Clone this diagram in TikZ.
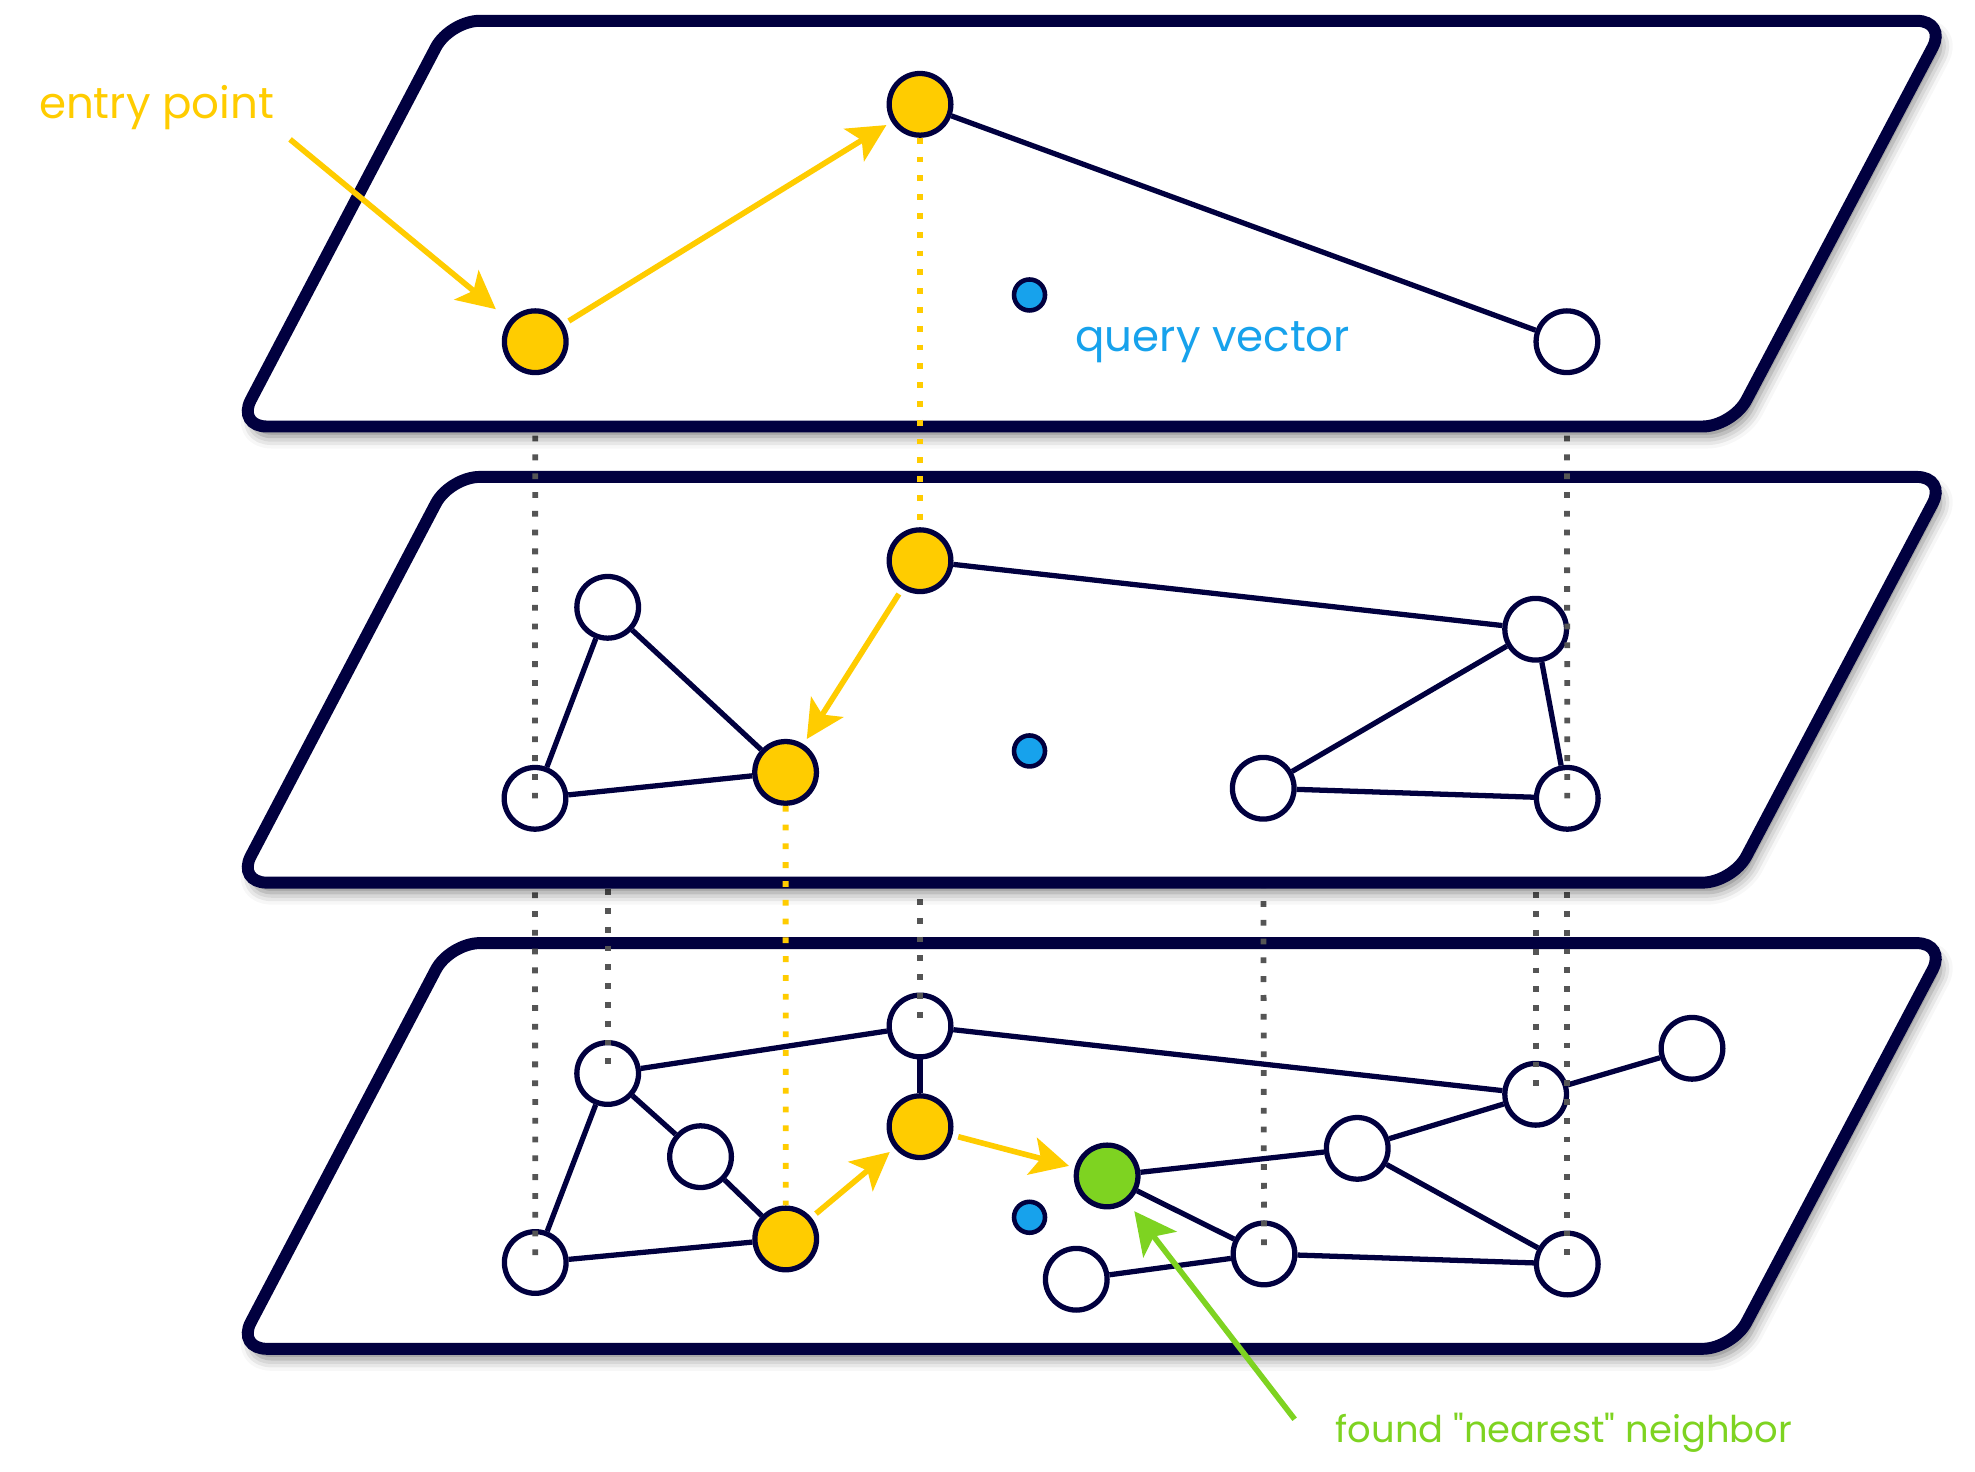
\documentclass[tikz,border=0pt]{standalone}
\usepackage{fontspec}
\setmainfont{Poppins}[Ligatures=TeXOff]
\usetikzlibrary{arrows.meta,shadows.blur}
\definecolor{navy}{HTML}{01003F}
\definecolor{yel}{HTML}{FFCC00}
\definecolor{grn}{HTML}{7ED321}
\definecolor{qblue}{HTML}{17A2EC}
\definecolor{dgray}{HTML}{555555}
\begin{document}
\begin{tikzpicture}[x=0.0126cm,y=-0.0126cm,
  plane/.style={draw=navy,line width=3.4pt,fill=white,rounded corners=0.3cm,
    blur shadow={shadow xshift=0.05cm,shadow yshift=-0.1cm,shadow blur radius=0.12cm,shadow opacity=50}},
  vtx/.style={circle,draw=navy,line width=1.5pt,fill=white,minimum size=0.617cm,inner sep=0pt},
  yv/.style={vtx,fill=yel},
  gv/.style={vtx,fill=grn},
  qv/.style={circle,draw=navy,line width=1.3pt,fill=qblue,minimum size=0.31cm,inner sep=0pt},
  edge/.style={draw=navy,line width=1.5pt},
  dots/.style={draw=dgray,line width=1.65pt,dash pattern=on 0.058cm off 0.13cm},
  ydots/.style={draw=yel,line width=1.65pt,dash pattern=on 0.058cm off 0.13cm},
  yarrow/.style={draw=yel,line width=1.6pt,-{Stealth[length=0.38cm,width=0.38cm,inset=0.09cm]},
    shorten <=0.06cm,shorten >=0.06cm},
  garrow/.style={draw=grn,line width=1.6pt,-{Stealth[length=0.42cm,width=0.42cm,inset=0.1cm]}},
  lbl/.style={anchor=base west,inner sep=0pt,font=\fontsize{12.4pt}{15pt}\selectfont},
  lbls/.style={anchor=base west,inner sep=0pt,font=\fontsize{10.5pt}{13pt}\selectfont}
]
\useasboundingbox (0,0) rectangle (1567.5,1167.5);

% node centres
\coordinate (b1) at (730.2,814.3);
\coordinate (b2) at (482.3,852);
\coordinate (b3) at (556,918);
\coordinate (b4) at (730.2,894.2);
\coordinate (b5) at (623.6,983.3);
\coordinate (b6) at (424.8,1002);
\coordinate (g)  at (878.7,933.3);
\coordinate (b7) at (1077.2,911.4);
\coordinate (b8) at (1218.8,868.5);
\coordinate (b9) at (1342.9,832);
\coordinate (b10) at (1003.2,995.2);
\coordinate (b11) at (854.2,1015.3);
\coordinate (b12) at (1243.9,1003.2);
\coordinate (q3) at (817.1,966.1);
\coordinate (m1) at (730.2,445);
\coordinate (m2) at (482.3,482);
\coordinate (m3) at (424.6,633.6);
\coordinate (m4) at (623.5,613);
\coordinate (m5) at (1218.8,499.4);
\coordinate (m6) at (1002.6,625.6);
\coordinate (m7) at (1243.9,633.6);
\coordinate (q2) at (817.1,596);
\coordinate (e1) at (424.8,271.2);
\coordinate (e2) at (730.2,82.8);
\coordinate (w)  at (1243.6,271.2);
\coordinate (q1) at (817.1,234.1);

% ---------------- bottom layer ----------------
\draw[plane] (357,748.5) -- (1545,748.5) -- (1375,1070.5) -- (188,1070.5) -- cycle;
\node[vtx] (B1) at (b1) {};
\node[vtx] (B2) at (b2) {};
\node[vtx] (B3) at (b3) {};
\node[yv]  (B4) at (b4) {};
\node[yv]  (B5) at (b5) {};
\node[vtx] (B6) at (b6) {};
\node[gv]  (G)  at (g) {};
\node[vtx] (B7) at (b7) {};
\node[vtx] (B8) at (b8) {};
\node[vtx] (B9) at (b9) {};
\node[vtx] (B10) at (b10) {};
\node[vtx] (B11) at (b11) {};
\node[vtx] (B12) at (b12) {};
\node[qv]  (Q3) at (q3) {};
\draw[edge] (B1) -- (B2);
\draw[edge] (B1) -- (B8);
\draw[edge] (B1) -- (B4);
\draw[edge] (B2) -- (B3);
\draw[edge] (B2) -- (B6);
\draw[edge] (B3) -- (B5);
\draw[edge] (B5) -- (B6);
\draw[edge] (B8) -- (B9);
\draw[edge] (B8) -- (B7);
\draw[edge] (B7) -- (G);
\draw[edge] (B7) -- (B12);
\draw[edge] (G) -- (B10);
\draw[edge] (B10) -- (B11);
\draw[edge] (B10) -- (B12);
\draw[yarrow] (B5) -- (B4);
\draw[yarrow] (B4) -- (G);

% links middle -> bottom
\draw[dots] (m3) -- (b6);
\draw[dots] (m2) -- (b2);
\draw[dots] (m1) -- (b1);
\draw[dots] (m6) -- (b10);
\draw[dots] (m5) -- (b8);
\draw[dots] (m7) -- (b12);

% ---------------- middle layer ----------------
\draw[plane] (357,378.5) -- (1545,378.5) -- (1375,700.5) -- (188,700.5) -- cycle;
\node[yv]  (M1) at (m1) {};
\node[vtx] (M2) at (m2) {};
\node[vtx] (M3) at (m3) {};
\node[yv]  (M4) at (m4) {};
\node[vtx] (M5) at (m5) {};
\node[vtx] (M6) at (m6) {};
\node[vtx] (M7) at (m7) {};
\node[qv]  (Q2) at (q2) {};
\draw[edge] (M1) -- (M5);
\draw[edge] (M2) -- (M3);
\draw[edge] (M2) -- (M4);
\draw[edge] (M3) -- (M4);
\draw[edge] (M5) -- (M6);
\draw[edge] (M5) -- (M7);
\draw[edge] (M6) -- (M7);
\draw[yarrow] (M1) -- (M4);

% links top -> middle
\draw[dots] (e1) -- (m3);
\draw[dots] (w) -- (m7);

% ---------------- top layer ----------------
\draw[plane] (357,16.5) -- (1545,16.5) -- (1375,338.5) -- (188,338.5) -- cycle;
\node[yv]  (E1) at (e1) {};
\node[yv]  (E2) at (e2) {};
\node[vtx] (W)  at (w) {};
\node[qv]  (Q1) at (q1) {};
\draw[edge] (E2) -- (W);
\draw[yarrow] (E1) -- (E2);
\node[lbl,text=qblue] (tQV) at (853,279) {query vector};

% ---------------- search path (front) ----------------
\draw[ydots] (E2) -- (M1);
\draw[ydots] (M4) -- (B5);

\node[lbl,text=yel] (tEP) at (30.4,93.9) {entry point};
\coordinate (ep) at (230.2,110.6);
\draw[yarrow,shorten <=0cm,shorten >=0.176cm] (ep) -- (E1);

\node[lbls,text=grn] (tFN) at (1059.5,1144.7) {found "nearest" neighbor};
\coordinate (fn) at (1027.5,1126.4);
\draw[garrow,shorten >=0.11cm] (fn) -- (G);
\end{tikzpicture}
\end{document}
